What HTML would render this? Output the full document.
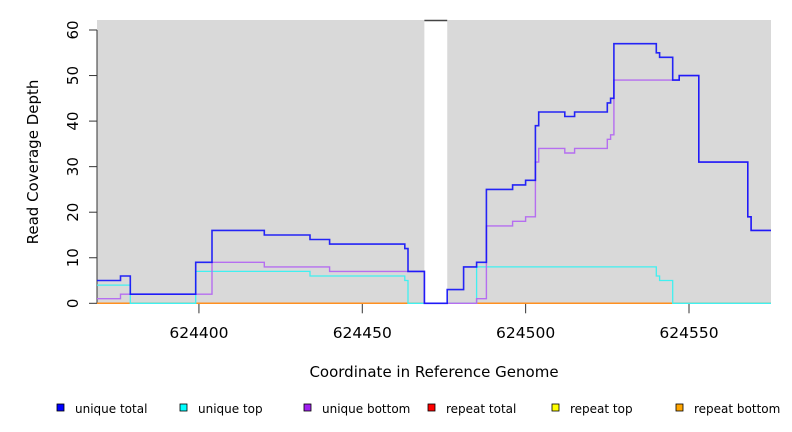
<!DOCTYPE html>
<html><head><meta charset="utf-8"><style>
body{margin:0;background:#fff;width:792px;height:432px;overflow:hidden;font-family:"DejaVu Sans","Liberation Sans",sans-serif}
svg{display:block}
</style></head><body>
<svg id="chart" width="792" height="432" xmlns="http://www.w3.org/2000/svg">
<g id="plot"></g>
<text transform="translate(38,162) rotate(-90)" text-anchor="middle" font-size="15" fill="#000">Read Coverage Depth</text>
<text x="434" y="377" text-anchor="middle" font-size="15" fill="#000">Coordinate in Reference Genome</text>
<g id="legend" font-size="12"></g>
</svg>
<script>
const BASE = 624400;
const xTicks = [624400, 624450, 624500, 624550];
const yTicks = [0, 10, 20, 30, 40, 50, 60];
const totalStarts = [-31.2,-24,-21,-1,4,20,34,40,63,64,69,76,81,85,88,96,100,103,104,112,115,125,126,127,140,141,145,147,153,168,169];
const totalValues = [5,6,2,9,16,15,14,13,12,7,0,3,8,9,25,26,27,39,42,41,42,44,45,57,55,54,49,50,31,19,16];
const topStarts = [-31.2,-21,-1,34,63,64,85,140,141,145];
const topValues = [4,0,7,6,5,0,8,6,5,0];
const bottomStarts = [-31.2,-24,4,20,40,69,85,88,96,100,103,104,112,115,125,126,127,147,153,168,169];
const bottomValues = [1,2,9,8,7,0,1,17,18,19,31,34,33,34,36,37,49,50,31,19,16];
const xStart = -31.2, xEnd = 175.1;
const gapStart = 69, gapEnd = 76;
const legendLabels = ["unique total","unique top","unique bottom","repeat total","repeat top","repeat bottom"];
const legendColors = ["#0000ff","#00ffff","#a020f0","#ff0000","#ffff00","#ffa500"];

const NS="http://www.w3.org/2000/svg";
const L=97,R=771,T=20,B=303.3;
function xs(v){return L+(v-xStart)/(xEnd-xStart)*(R-L);}
function ys(v){return B-v*4.555;}
function mk(tag,attrs,parent){const e=document.createElementNS(NS,tag);for(const k in attrs)e.setAttribute(k,attrs[k]);parent.appendChild(e);return e;}
const plot=document.getElementById('plot');

let r1=mk('rect',{x:L,y:T,width:xs(gapStart)-L,height:B-T,fill:'#d9d9d9'},plot);


let r2=mk('rect',{x:xs(gapEnd),y:T,width:R-xs(gapEnd),height:B-T,fill:'#d9d9d9'},plot);


let gl=mk('line',{x1:xs(gapStart),x2:xs(gapEnd),y1:T+0.5,y2:T+0.5,stroke:'#444','stroke-width':1.5},plot);



let ya=mk('line',{x1:L,x2:L,y1:ys(0),y2:ys(60),stroke:'#333','stroke-width':1},plot);


yTicks.forEach(v=>{
  let t=mk('line',{x1:L-8,x2:L,y1:ys(v),y2:ys(v),stroke:'#333'},plot);
  
  
  let tx=mk('text',{transform:`translate(${L-19},${ys(v)}) rotate(-90)`,'text-anchor':'middle','font-size':15},plot);
  tx.textContent=v;
  
  
});
xTicks.forEach(v=>{
  const x=xs(v-BASE);
  let t=mk('line',{x1:x,x2:x,y1:B,y2:B+10,stroke:'#333'},plot);
  
  
  let tx=mk('text',{x:x,y:338,'text-anchor':'middle','font-size':15.5},plot);
  tx.textContent=v;
  
  
});

function stepPath(starts,vals){
  let d='';
  for(let i=0;i<starts.length;i++){
    const x0=xs(starts[i]),x1=xs(i+1<starts.length?starts[i+1]:xEnd),y=ys(vals[i]);
    d+=(i===0?'M':'L')+x0.toFixed(1)+','+y.toFixed(1)+'L'+x1.toFixed(1)+','+y.toFixed(1);
  }
  return d;
}
let rep=mk('line',{x1:L,x2:R,y1:B,y2:B,stroke:'#ff9020','stroke-width':1.5},plot);


let pt=mk('path',{d:stepPath(topStarts,topValues),fill:'none',stroke:'#40f0f0','stroke-width':1.3},plot);


let pb=mk('path',{d:stepPath(bottomStarts,bottomValues),fill:'none',stroke:'#b56ef0','stroke-width':1.4},plot);


let ptot=mk('path',{d:stepPath(totalStarts,totalValues),fill:'none',stroke:'#1010f8','stroke-width':1.6,'stroke-opacity':0.9},plot);



const lg=document.getElementById('legend');
const lx=[57,180,304,428,552,676];
legendLabels.forEach((lab,i)=>{
  let s=mk('rect',{x:lx[i],y:404,width:7,height:7,fill:legendColors[i],stroke:'#000','stroke-width':0.8},lg);
  
  
  let t=mk('text',{x:lx[i]+18,y:413},lg);
  t.textContent=lab;
  
  
});
</script>
</body></html>
